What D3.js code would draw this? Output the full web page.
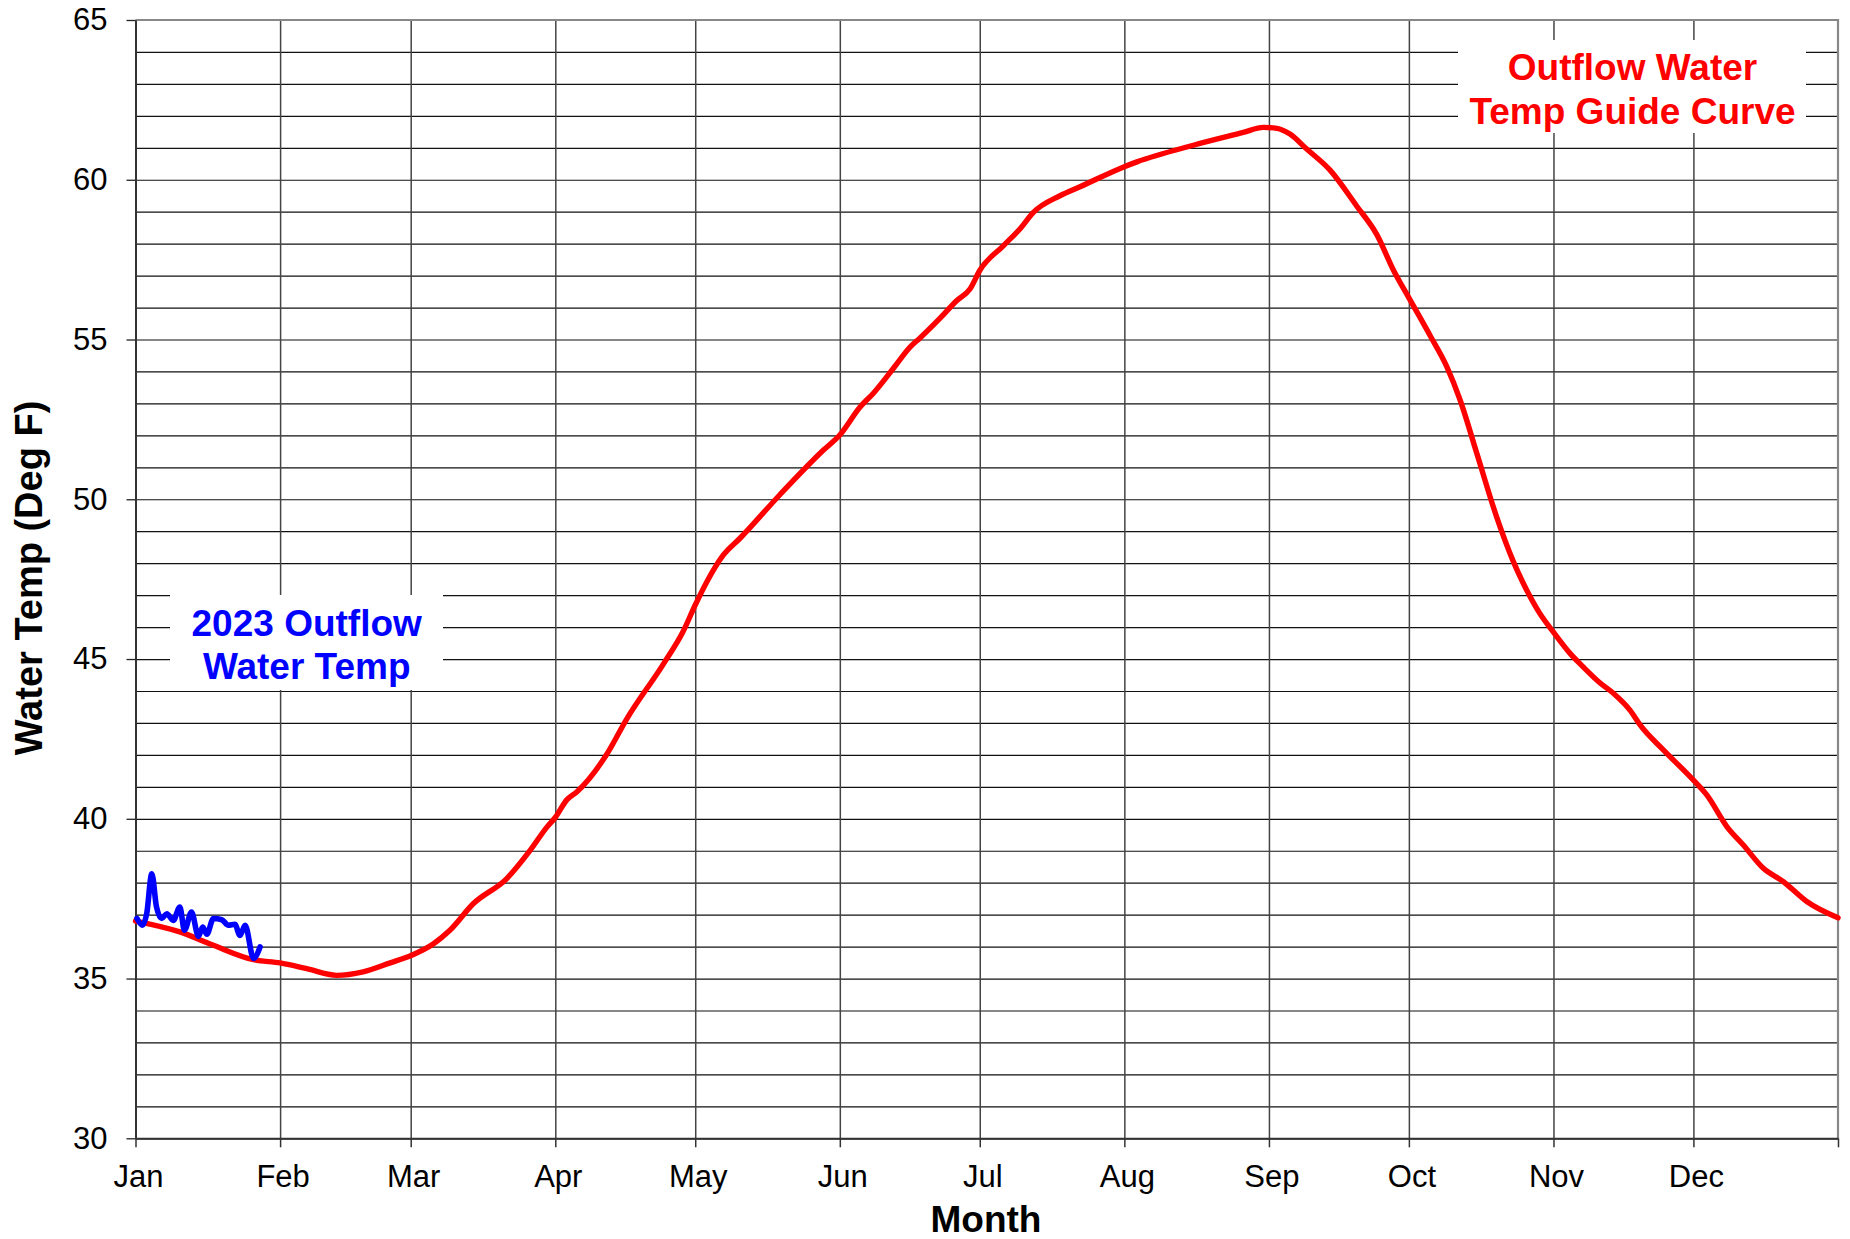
<!DOCTYPE html>
<html>
<head>
<meta charset="utf-8">
<script src="https://cdn.jsdelivr.net/npm/d3@7"></script>
<style>
  body { margin: 0; background: #fff; }
  text { font-family: "Liberation Sans", Arial, sans-serif; }
</style>
</head>
<body>
<div id="chart"></div>
<script>
// guide curve (day of year, deg F)
var guideDays = [0, 9.5, 16.7, 25.3, 31, 36.7, 43.1, 48.8, 54.6, 59.2, 63.9, 67.4, 72.4, 79.6, 84.6, 88.2, 90, 92.5, 94.6,
    101, 105.3, 113.2, 117.4, 120, 122.5, 126, 129.6, 138.2, 147.5, 151, 155.3, 158.2, 162.5, 166.1, 168.2, 172.5, 176.1,
    178.9, 181, 186.1, 189.6, 192.5, 198.2, 202.5, 212, 214.7, 226.8, 237.5, 241.8, 244.7, 247.5, 251.1, 256.1, 261.8,
    266.1, 269.7, 273.1, 277.6, 281.1, 284, 287.6, 291.9, 295.4, 297.6, 301.1, 304, 307.6, 310.4, 314, 316.9, 320.4,
    322.6, 327.6, 334, 336.9, 341.2, 344.7, 349, 353.3, 358.3, 365];
var guideTemps = [36.8, 36.46, 36.04, 35.59, 35.49, 35.31, 35.1, 35.21, 35.49, 35.73, 36.09, 36.51, 37.34, 38.13, 39.01, 39.74, 40.04, 40.6, 40.84,
    42.01, 43.12, 44.85, 45.86, 46.69, 47.42, 48.25, 48.78, 50.15, 51.54, 52.01, 52.88, 53.32, 54.1, 54.77, 55.05, 55.67, 56.22,
    56.58, 57.16, 57.94, 58.46, 58.98, 59.5, 59.78, 60.41, 60.56, 61.08, 61.48, 61.64, 61.61, 61.43, 60.96, 60.3, 59.18,
    58.29, 57.17, 56.28, 55.11, 54.16, 53.1, 51.42, 49.41, 48.05, 47.35, 46.42, 45.84, 45.17, 44.75, 44.25, 43.92, 43.4,
    42.93, 42.15, 41.21, 40.74, 39.75, 39.18, 38.45, 38.03, 37.41, 36.9];

// 2023 observed outflow temps
var obsDays = [0.3, 1.5, 2.4, 3.5, 4.5, 5.6, 6.7, 8.1, 9.5, 10.5, 12, 13.5, 14.4, 15.3, 16.7, 18.5, 19.9, 21.3, 22.4, 23.5, 25.3, 26.7];
var obsTemps = [36.88, 36.67, 37.03, 38.28, 37.24, 36.88, 37.03, 36.82, 37.24, 36.51, 37.08, 36.32, 36.61, 36.39, 36.88, 36.84, 36.67, 36.7, 36.35, 36.67, 35.63, 35.99];

var monthStarts = [0, 31, 59, 90, 120, 151, 181, 212, 243, 273, 304, 334, 365];
var monthNames = ["Jan", "Feb", "Mar", "Apr", "May", "Jun", "Jul", "Aug", "Sep", "Oct", "Nov", "Dec", ""];
var majorTemps = [30, 35, 40, 45, 50, 55, 60, 65];
var gridTemps = d3.range(30, 66, 1);

(function() {
    var width = 1850, height = 1239;
    var pLeft = 135.5, pRight = 1838, pTop = 20, pBottom = 1138.3;

    var x = d3.scaleLinear().domain([0, 365]).range([pLeft, pRight]);
    var y = d3.scaleLinear().domain([30, 65]).range([pBottom, pTop]);

    var svg = d3.select("#chart").append("svg")
        .attr("width", width)
        .attr("height", height);

    svg.append("rect").attr("width", width).attr("height", height).attr("fill", "#fff");

    // horizontal grid every degree
    svg.append("g")
        .attr("transform", "translate(" + pLeft + ",0)")
        .call(d3.axisLeft(y).tickValues(gridTemps).tickSize(-(pRight - pLeft)).tickFormat(""))
        .call(function(g) {
            g.select(".domain").remove();
            g.selectAll("line").attr("stroke", "#111").attr("stroke-width", 1.2);
        });

    // month grid lines
    svg.append("g")
        .attr("transform", "translate(0," + pTop + ")")
        .call(d3.axisBottom(x).tickValues(monthStarts.slice(1, 12)).tickSize(pBottom - pTop).tickFormat(""))
        .call(function(g) {
            g.select(".domain").remove();
            g.selectAll("line").attr("stroke", "#444").attr("stroke-width", 1.5);
        });

    // frame top / right
    svg.append("path")
        .attr("d", "M" + pLeft + "," + pTop + "H" + pRight + "V" + pBottom)
        .attr("fill", "none")
        .attr("stroke", "#888")
        .attr("stroke-width", 2.2);

    // y axis
    svg.append("g")
        .attr("transform", "translate(" + pLeft + ",0)")
        .call(d3.axisLeft(y).tickValues(majorTemps).tickSize(9).tickPadding(19).tickSizeOuter(0))
        .call(function(g) {
            g.select(".domain").attr("stroke", "#333").attr("stroke-width", 2);
            g.selectAll("line").attr("stroke", "#222").attr("stroke-width", 1.3);
            g.selectAll("text").attr("font-size", 31).attr("fill", "#000")
                .attr("font-family", "'Liberation Sans', Arial, sans-serif");
        });

    // x axis
    svg.append("g")
        .attr("transform", "translate(0," + pBottom + ")")
        .call(d3.axisBottom(x).tickValues(monthStarts).tickSize(9).tickPadding(18).tickSizeOuter(0)
            .tickFormat(function(d, i) { return monthNames[i]; }))
        .call(function(g) {
            g.select(".domain").attr("stroke", "#333").attr("stroke-width", 2);
            g.selectAll("line").attr("stroke", "#333").attr("stroke-width", 1.5);
            g.selectAll("text").attr("font-size", 31).attr("fill", "#000").attr("dx", 2.5)
                .attr("font-family", "'Liberation Sans', Arial, sans-serif");
        });

    var line = d3.line()
        .x(function(d) { return x(d[0]); })
        .y(function(d) { return y(d[1]); })
        .curve(d3.curveMonotoneX);

    svg.append("path")
        .datum(d3.zip(guideDays, guideTemps))
        .attr("d", line)
        .attr("fill", "none")
        .attr("stroke", "#ff0000")
        .attr("stroke-width", 5.4)
        .attr("stroke-linejoin", "round")
        .attr("stroke-linecap", "round");

    svg.append("path")
        .datum(d3.zip(obsDays, obsTemps))
        .attr("d", line)
        .attr("fill", "none")
        .attr("stroke", "#0000ff")
        .attr("stroke-width", 5.6)
        .attr("stroke-linejoin", "round")
        .attr("stroke-linecap", "round");

    // labels in white boxes
    function label(lines, color, cx, y0, box) {
        svg.append("rect")
            .attr("x", box[0]).attr("y", box[1])
            .attr("width", box[2] - box[0]).attr("height", box[3] - box[1])
            .attr("fill", "#fff");
        lines.forEach(function(t, i) {
            svg.append("text")
                .attr("x", cx)
                .attr("y", y0 + i * 43.5)
                .attr("text-anchor", "middle")
                .attr("font-size", 37)
                .attr("font-weight", "bold")
                .attr("fill", color)
                .text(t);
        });
    }
    label(["Outflow Water", "Temp Guide Curve"], "#ff0000", 1632.5, 80, [1458, 40, 1806, 133]);
    label(["2023 Outflow", "Water Temp"], "#0000ff", 306.7, 635.5, [170, 595, 443, 690]);

    // axis titles
    svg.append("text")
        .attr("x", 986)
        .attr("y", 1232)
        .attr("text-anchor", "middle")
        .attr("font-size", 37)
        .attr("font-weight", "bold")
        .text("Month");

    svg.append("text")
        .attr("transform", "translate(42,578) rotate(-90)")
        .attr("text-anchor", "middle")
        .attr("font-size", 38)
        .attr("font-weight", "bold")
        .text("Water Temp (Deg F)");
})();
</script>
</body>
</html>
